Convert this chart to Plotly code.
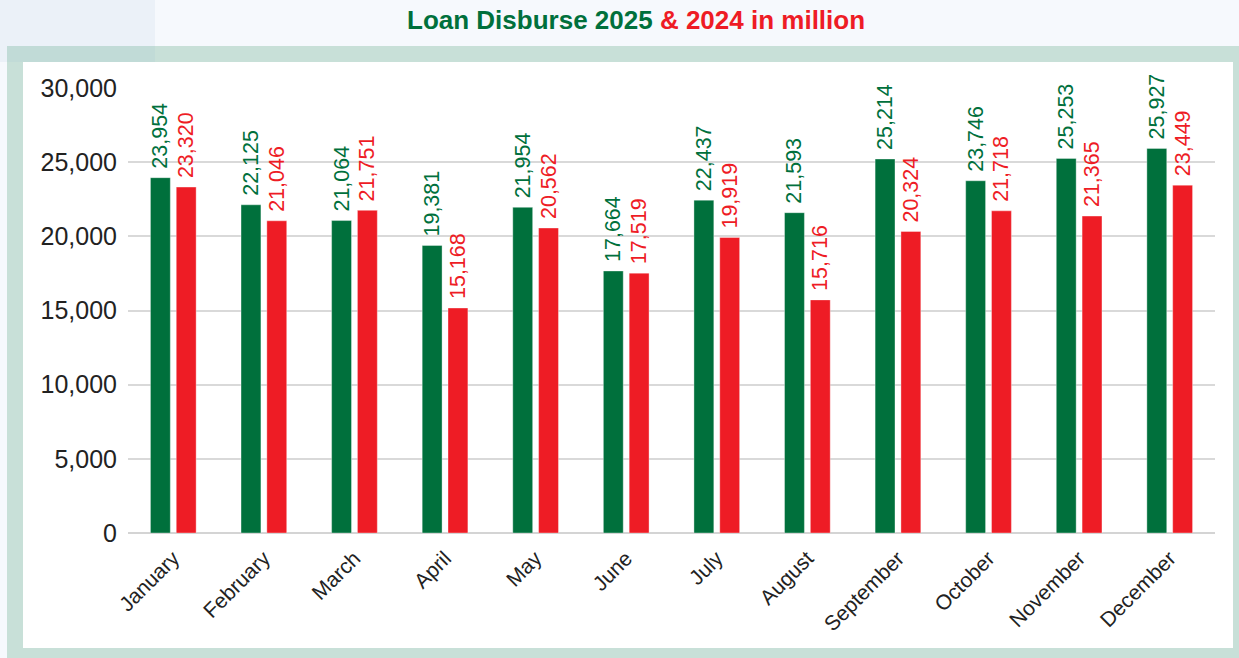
import plotly.graph_objects as go

months = ["January", "February", "March", "April", "May", "June", "July",
          "August", "September", "October", "November", "December"]
disburse_2025 = [23954, 22125, 21064, 19381, 21954, 17664, 22437, 21593,
                 25214, 23746, 25253, 25927]
disburse_2024 = [23320, 21046, 21751, 15168, 20562, 17519, 19919, 15716,
                 20324, 21718, 21365, 23449]
y_ticks = [0, 5000, 10000, 15000, 20000, 25000, 30000]

GREEN = "#00703c"
RED = "#ee1c25"
FONT = "Liberation Sans, Arial, sans-serif"

W, H = 1239, 658
L, R, T, B = 128, 24, 88, 125
PW, PH = W - L - R, H - T - B


def px_x(x):
    return (x - L) / PW


def px_y(y):
    return (H - B - y) / PH


fig = go.Figure()
for name, vals, col in [("2025", disburse_2025, GREEN), ("2024", disburse_2024, RED)]:
    fig.add_trace(go.Bar(
        x=months, y=vals, name=name,
        marker=dict(color=col, line=dict(color="rgba(255,255,255,0.6)", width=0.6)),
        # leading no-break space keeps the rotated label a little off the bar top
        text=[f"\u00a0{v:,}" for v in vals],
        textposition="outside", textangle=-90, constraintext="none",
        textfont=dict(family=FONT, size=21.5, color=col),
        cliponaxis=False,
    ))

shapes = [
    # green frame
    dict(type="rect", xref="paper", yref="paper", layer="below",
         x0=px_x(7), x1=px_x(1239), y0=px_y(658), y1=px_y(46),
         fillcolor="#c8e0d8", line=dict(width=0)),
    # tinted corner block
    dict(type="rect", xref="paper", yref="paper", layer="below",
         x0=px_x(0), x1=px_x(155), y0=px_y(62), y1=px_y(0),
         fillcolor="rgba(140,175,205,0.10)", line=dict(width=0)),
    # white panel
    dict(type="rect", xref="paper", yref="paper", layer="below",
         x0=px_x(23), x1=px_x(1233), y0=px_y(648), y1=px_y(62),
         fillcolor="#ffffff", line=dict(width=0)),
]

fig.update_layout(
    width=W, height=H,
    margin=dict(l=L, r=R, t=T, b=B),
    paper_bgcolor="#f6f9fd",
    plot_bgcolor="rgba(0,0,0,0)",
    showlegend=False,
    barmode="group",
    bargap=0.43,
    bargroupgap=0.23,
    shapes=shapes,
    font=dict(family=FONT, color="#222222"),
    annotations=[dict(
        xref="paper", yref="paper", x=px_x(636), y=px_y(20),
        xanchor="center", yanchor="middle", showarrow=False,
        text=(f"<b><span style='color:{GREEN}'>Loan Disburse 2025</span> "
              f"<span style='color:{RED}'>&amp; 2024 in million</span></b>"),
        font=dict(family=FONT, size=26),
    )],
)

fig.update_yaxes(
    range=[0, 30000], tickvals=y_ticks,
    ticktext=[f"{v:,}" for v in y_ticks],
    tickfont=dict(family=FONT, size=25, color="#222222"),
    gridcolor="#d9d9d9", gridwidth=1.5,
    zeroline=True, zerolinecolor="#d4d4d4", zerolinewidth=2,
    showline=False, ticks="", ticklabelstandoff=10,
)
fig.update_xaxes(
    tickangle=-45,
    tickfont=dict(family=FONT, size=21, color="#222222"),
    showline=False, ticks="", ticklabelstandoff=8,
)

fig.write_html("out.html")
